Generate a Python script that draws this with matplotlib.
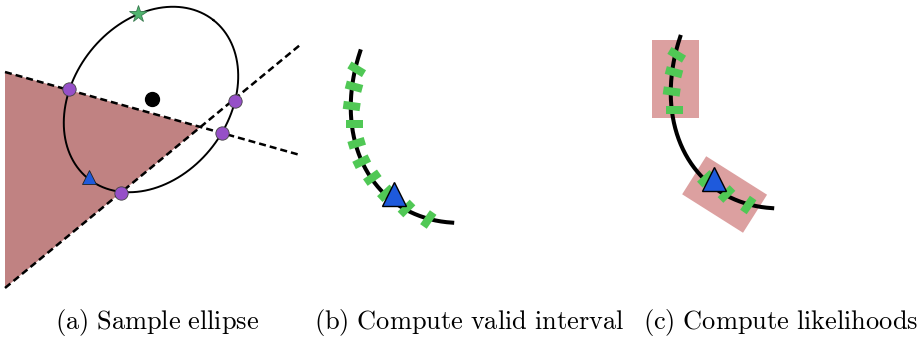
import numpy as np
import matplotlib
matplotlib.use("Agg")
import matplotlib.pyplot as plt
from matplotlib.patches import Polygon, Rectangle

plt.rcParams["mathtext.fontset"] = "cm"

W, H = 924, 343

# ---- panel (a): sampled ellipse and the two boundary lines (pixel units, y down)
ell_center = (151, 99.5)
ell_a, ell_b, ell_angle = 101, 77.5, 51.85      # semi-axes and tilt (deg, ccw on screen)
line1 = [(5, 72), (300, 155)]
line2 = [(5, 288), (300, 45)]
shade = [(5, 72), (200.5, 127), (5, 288)]
purple_x = [69.3, 235, 221.7, 120.7]
purple_y = [89.3, 100.7, 133.3, 193.3]
star_xy = (138.3, 14)
tri_a_xy = (89.3, 176.5)
center_dot = (152, 99)

# ---- panel (b): zoomed arc with candidate samples
arc_center = (496.4, 68)
arc_scale = 1.67
arc_t = (114.9, 208)            # parameter range on the ellipse (deg)
tick_x = [356.7, 354, 351.7, 354, 356.7, 361.7, 372.3, 386, 406.5, 428.3]
tick_y = [69.3, 86.7, 106, 124.3, 143.3, 161.7, 177.7, 193.3, 208.5, 219.5]
tick_ang = [31, 15, 8, 0, -17, -26, -35, -43, -45, -55]
tri_b_xy = (394.3, 193.5)

# ---- panel (c): same arc shifted, with likelihood boxes
shift_c = (320, -14.5)
keep_c = [0, 1, 2, 3, 7, 8, 9]
box1 = (652.3, 40, 46.7, 77.7, 0)           # x, y, width, height, angle
box2 = (724.6, 194.5, 72, 45, 32.3)        # cx, cy, width, height, angle

captions = ["(a) Sample ellipse", "(b) Compute valid interval", "(c) Compute likelihoods"]
caption_x = [157, 469, 781]
caption_y = 322

green = "#50c855"
purple = "#9650c8"
blue = "#1e5adc"


def ellipse_pts(c, a, b, ang, t_deg):
    t = np.radians(t_deg)
    th = np.radians(ang)
    x = c[0] + a * np.cos(t) * np.cos(th) - b * np.sin(t) * np.sin(th)
    y = c[1] - (a * np.cos(t) * np.sin(th) + b * np.sin(t) * np.cos(th))
    return x, y


def draw_tick(ax, x, y, ang, length=17, lw=8):
    r = np.radians(ang)
    dx, dy = 0.5 * length * np.cos(r), 0.5 * length * np.sin(r)
    ax.plot([x - dx, x + dx], [y - dy, y + dy], color=green,
            lw=lw * 0.72, solid_capstyle="butt", zorder=4)


fig = plt.figure(figsize=(W / 100, H / 100), dpi=100)
ax = fig.add_axes([0, 0, 1, 1])
ax.set_xlim(0, W)
ax.set_ylim(H, 0)
ax.axis("off")

# (a)
ax.add_patch(Polygon(shade, closed=True, facecolor="#c08282", edgecolor="none", zorder=1))
for ln in (line1, line2):
    ax.plot([ln[0][0], ln[1][0]], [ln[0][1], ln[1][1]], color="black", lw=1.8,
            ls=(0, (2.8, 1.6)), zorder=2)
t = np.linspace(0, 360, 400)
ex, ey = ellipse_pts(ell_center, ell_a, ell_b, ell_angle, t)
ax.plot(ex, ey, color="black", lw=1.4, zorder=3)
ax.plot(purple_x, purple_y, "o", ms=9.6, mfc=purple, mec="#444444", mew=0.6, zorder=5)
ax.plot(*center_dot, "o", ms=10, color="black", zorder=5)
ax.plot(*star_xy, "*", ms=13, mfc="#50b46e", mec="#3a7a50", mew=0.6, zorder=5)
ax.plot(*tri_a_xy, "^", ms=9.4, mfc=blue, mec="#222222", mew=0.6, zorder=5)

# (b)
tb = np.linspace(arc_t[0], arc_t[1], 200)
bx, by = ellipse_pts(arc_center, ell_a * arc_scale, ell_b * arc_scale, ell_angle, tb)
ax.plot(bx, by, color="black", lw=2.9, zorder=3)
for x, y, a in zip(tick_x, tick_y, tick_ang):
    draw_tick(ax, x, y, a)
ax.plot(*tri_b_xy, "^", ms=17.6, mfc=blue, mec="black", mew=1.0, zorder=6)

# (c)
bx0, by0, bw, bh, _ = box1
ax.add_patch(Rectangle((bx0, by0), bw, bh, facecolor="#dca0a0", edgecolor="none", zorder=1))
cx, cy, rw, rh, ra = box2
ax.add_patch(Rectangle((cx - rw / 2, cy - rh / 2), rw, rh, angle=ra, rotation_point="center",
                       facecolor="#dca0a0", edgecolor="none", zorder=1))
ax.plot(bx + shift_c[0], by + shift_c[1], color="black", lw=2.9, zorder=3)
for i in keep_c:
    draw_tick(ax, tick_x[i] + shift_c[0], tick_y[i] + shift_c[1], tick_ang[i])
ax.plot(tri_b_xy[0] + shift_c[0], tri_b_xy[1] + shift_c[1], "^", ms=17.6,
        mfc=blue, mec="black", mew=1.0, zorder=6)

for txt, x in zip(captions, caption_x):
    ax.text(x, caption_y, r"$\mathrm{" + txt.replace(" ", r"\ ") + "}$",
            ha="center", va="center", fontsize=19)

fig.savefig("out.png", dpi=100)
